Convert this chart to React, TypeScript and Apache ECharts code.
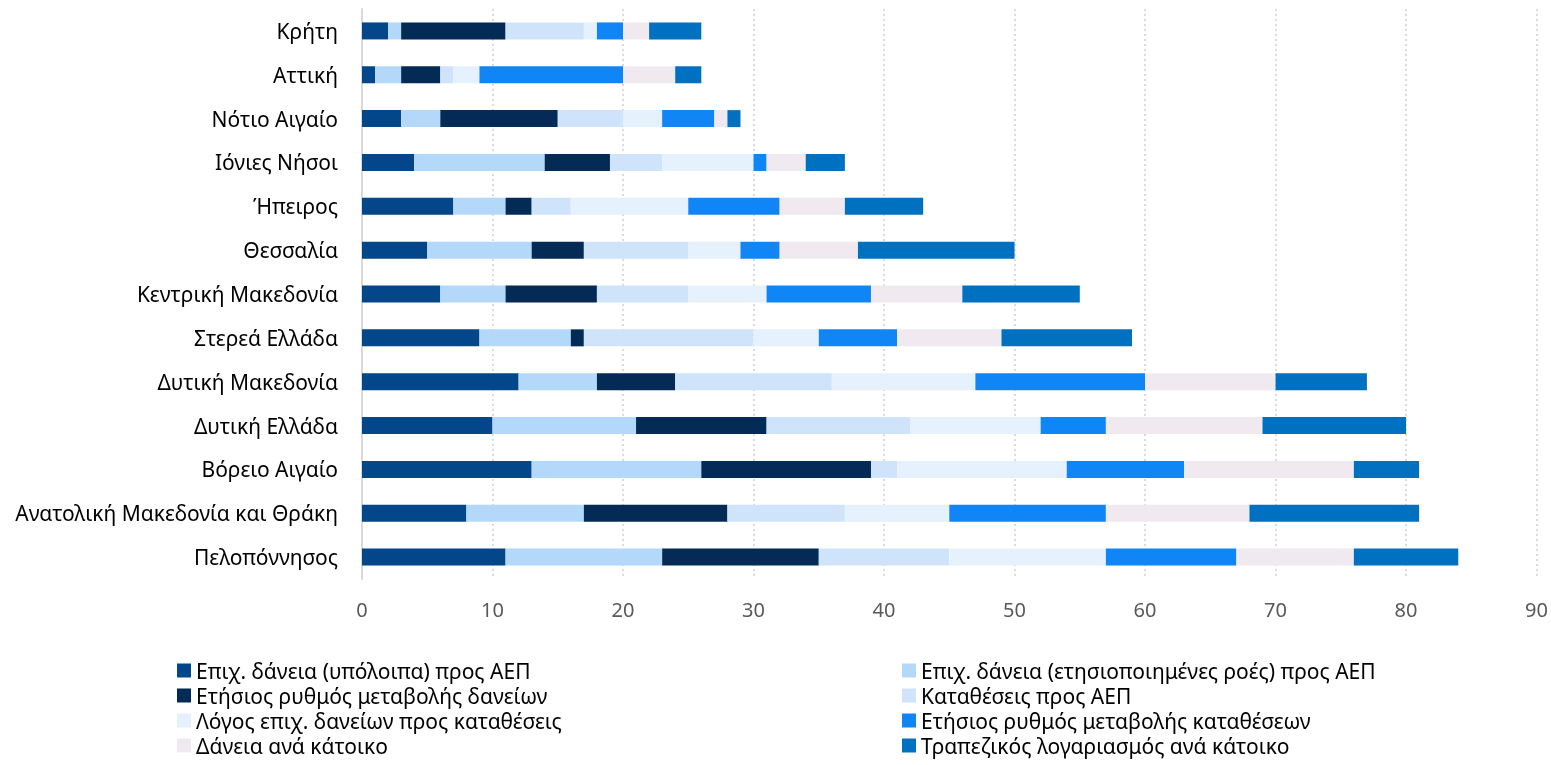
import React, { useEffect, useRef } from "react";
import * as echarts from "echarts";

const categories = [
  "Πελοπόννησος",
  "Ανατολική Μακεδονία και Θράκη",
  "Βόρειο Αιγαίο",
  "Δυτική Ελλάδα",
  "Δυτική Μακεδονία",
  "Στερεά Ελλάδα",
  "Κεντρική Μακεδονία",
  "Θεσσαλία",
  "Ήπειρος",
  "Ιόνιες Νήσοι",
  "Νότιο Αιγαίο",
  "Αττική",
  "Κρήτη",
];

const seriesNames = [
  "Επιχ. δάνεια (υπόλοιπα) προς ΑΕΠ",
  "Επιχ. δάνεια (ετησιοποιημένες ροές) προς ΑΕΠ",
  "Ετήσιος ρυθμός μεταβολής δανείων",
  "Καταθέσεις προς ΑΕΠ",
  "Λόγος επιχ. δανείων προς καταθέσεις",
  "Ετήσιος ρυθμός μεταβολής καταθέσεων",
  "Δάνεια ανά κάτοικο",
  "Τραπεζικός λογαριασμός ανά κάτοικο",
];

const colors = ["#03468A", "#B4D8FA", "#032B55", "#CFE4FA", "#E5F1FD", "#1085F5", "#F0EAF0", "#0070C0"];

// values in category order (bottom to top)
const loansStock = [11, 8, 13, 10, 12, 9, 6, 5, 7, 4, 3, 1, 2];
const loansFlows = [12, 9, 13, 11, 6, 7, 5, 8, 4, 10, 3, 2, 1];
const loansGrowth = [12, 11, 13, 10, 6, 1, 7, 4, 2, 5, 9, 3, 8];
const depositsGdp = [10, 9, 2, 11, 12, 13, 7, 8, 3, 4, 5, 1, 6];
const loanDepositRatio = [12, 8, 13, 10, 11, 5, 6, 4, 9, 7, 3, 2, 1];
const depositsGrowth = [10, 12, 9, 5, 13, 6, 8, 3, 7, 1, 4, 11, 2];
const loansPerCapita = [9, 11, 13, 12, 10, 8, 7, 6, 5, 3, 1, 4, 2];
const accountsPerCapita = [8, 13, 5, 11, 7, 10, 9, 12, 6, 3, 1, 2, 4];

const seriesData = [
  loansStock,
  loansFlows,
  loansGrowth,
  depositsGdp,
  loanDepositRatio,
  depositsGrowth,
  loansPerCapita,
  accountsPerCapita,
];

const xTicks = { min: 0, max: 90, interval: 10 };

const FONT = "'Noto Sans', sans-serif";

export default function App() {
  const ref = useRef<HTMLDivElement>(null);
  useEffect(() => {
    if (!ref.current) return;
    const chart = echarts.init(ref.current, undefined, { renderer: "svg" });
    const legendText = { fontFamily: FONT, fontSize: 21, color: "#000000", lineHeight: 25 };
    const legendBase = {
      orient: "vertical",
      top: 658,
      itemWidth: 14,
      itemHeight: 14,
      itemGap: 0,
      padding: 0,
      icon: "rect",
      textStyle: legendText,
    };
    chart.setOption({
      animation: false,
      grid: { left: 362, right: 11, top: 9, bottom: 186, containLabel: false },
      xAxis: {
        type: "value",
        min: xTicks.min,
        max: xTicks.max,
        interval: xTicks.interval,
        axisLine: { show: false },
        axisTick: { show: false },
        axisLabel: { fontFamily: FONT, fontSize: 20, color: "#595959", margin: 20 },
        splitLine: { show: true, lineStyle: { type: [2, 3], color: "#D0D0D0", width: 1.5 } },
      },
      yAxis: {
        type: "category",
        data: categories,
        axisLine: { show: true, lineStyle: { color: "#D9D9D9", width: 2 } },
        axisTick: { show: false },
        axisLabel: { fontFamily: FONT, fontSize: 21, color: "#000000", margin: 24 },
      },
      legend: [
        {
          ...legendBase,
          left: 177,
          data: [seriesNames[0], seriesNames[2], seriesNames[4], seriesNames[6]],
        },
        {
          ...legendBase,
          left: 902,
          data: [seriesNames[1], seriesNames[3], seriesNames[5], seriesNames[7]],
        },
      ],
      series: seriesNames.map((name, i) => ({
        name,
        type: "bar",
        stack: "total",
        barWidth: 17,
        data: seriesData[i],
        itemStyle: { color: colors[i] },
        emphasis: { disabled: true },
      })),
    });
    return () => chart.dispose();
  }, []);
  return <div ref={ref} style={{ position: "fixed", left: 0, top: 0, width: 1551, height: 765 }} />;
}
